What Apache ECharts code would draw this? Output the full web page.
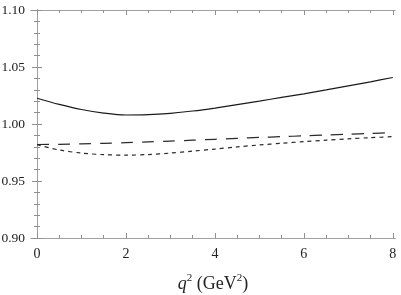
<!DOCTYPE html>
<html><head><meta charset="utf-8">
<script src="https://cdn.jsdelivr.net/npm/echarts@6/dist/echarts.min.js"></script>
<style>html,body{margin:0;padding:0;background:#fff}#c{width:401px;height:295px}</style>
</head><body><div id="c"></div>
<script>
const q2 = [0,0.5,1,1.5,2,2.5,3,3.5,4,4.5,5,5.5,6,6.5,7,7.5,8];
const solid = [1.0226,1.0172,1.0127,1.0096,1.0079,1.0082,1.0094,1.0114,1.0140,1.0170,1.0201,1.0233,1.0265,1.0299,1.0334,1.0370,1.0408];
const longDash = [0.9820,0.9822,0.9826,0.9830,0.9836,0.9843,0.9850,0.9858,0.9866,0.9874,0.9882,0.9889,0.9896,0.9903,0.9910,0.9917,0.9925];
const shortDash = [0.9818,0.9772,0.9745,0.9731,0.9727,0.9732,0.9745,0.9762,0.9780,0.9799,0.9816,0.9831,0.9845,0.9858,0.9870,0.9880,0.9889];
const xMajor = [0,2,4,6,8];
const xMinor = [0,0.5,1,1.5,2,2.5,3,3.5,4,4.5,5,5.5,6,6.5,7,7.5,8];
const yMajor = [0.90,0.95,1.00,1.05,1.10];
const yMinor = [0.90,0.91,0.92,0.93,0.94,0.95,0.96,0.97,0.98,0.99,1.00,1.01,1.02,1.03,1.04,1.05,1.06,1.07,1.08,1.09,1.10];

const FONT = 'Liberation Serif';
const frame = {show:true, lineStyle:{color:'#a0a0a0', width:1}};
const XMIN = -0.135, XMAX = 8.05, YMIN = 0.9, YMAX = 1.1;
function xa(pos, vals, len, labels, extra){
  return Object.assign({type:'value', position:pos, min:XMIN, max:XMAX, axisLine:frame,
    axisTick:{show:true, inside:true, length:len, customValues:vals, lineStyle:{color:'#909090', width:1}},
    axisLabel:{show:labels, customValues:vals, fontFamily:FONT, fontSize:14, color:'#222', margin:9,
      formatter:v=>String(Math.round(v))},
    splitLine:{show:false}}, extra||{});
}
function ya(pos, vals, len, labels){
  return {type:'value', position:pos, min:YMIN, max:YMAX, axisLine:frame,
    axisTick:{show:true, inside:true, length:len, customValues:vals, lineStyle:{color:'#909090', width:1}},
    axisLabel:{show:labels, customValues:vals, fontFamily:FONT, fontSize:13.5, color:'#222', margin:6,
      formatter:v=>v.toFixed(2)},
    splitLine:{show:false}};
}
const mk = arr => q2.map((x,i)=>[x,arr[i]]);
const chart = echarts.init(document.getElementById('c'), null, {renderer:'canvas'});
chart.setOption({
  animation:false,
  grid:{left:31, right:6, top:10, bottom:57, containLabel:false, outerBoundsMode:'none'},
  xAxis:[
    xa('bottom', xMajor, 5, true, {name:'{i|q}{s|2} (GeV{s|2})', nameLocation:'middle', nameGap:35,
      nameTextStyle:{fontFamily:FONT, fontSize:18, color:'#222',
        rich:{i:{fontFamily:FONT, fontSize:18, fontStyle:'italic', color:'#222'},
              s:{fontFamily:FONT, fontSize:11, color:'#222', padding:[0,0,11,0]}}}}),
    xa('bottom', xMinor, 3, false),
    xa('top', xMajor, 5, false),
    xa('top', xMinor, 3, false)
  ],
  yAxis:[ ya('left', yMajor, 5, true), ya('left', yMinor, 3, false), ya('right', yMajor, 5, false), ya('right', yMinor, 3, false) ],
  series:[
    {type:'line', data:mk(solid), smooth:0.3, showSymbol:false, lineStyle:{color:'#1a1a1a', width:1.2}},
    {type:'line', data:mk(longDash), smooth:0.3, showSymbol:false, lineStyle:{color:'#2a2a2a', width:1.2, type:[12,9]}},
    {type:'line', data:mk(shortDash), smooth:0.3, showSymbol:false, lineStyle:{color:'#2a2a2a', width:1.2, type:[4,4]}}
  ]
});
</script></body></html>
